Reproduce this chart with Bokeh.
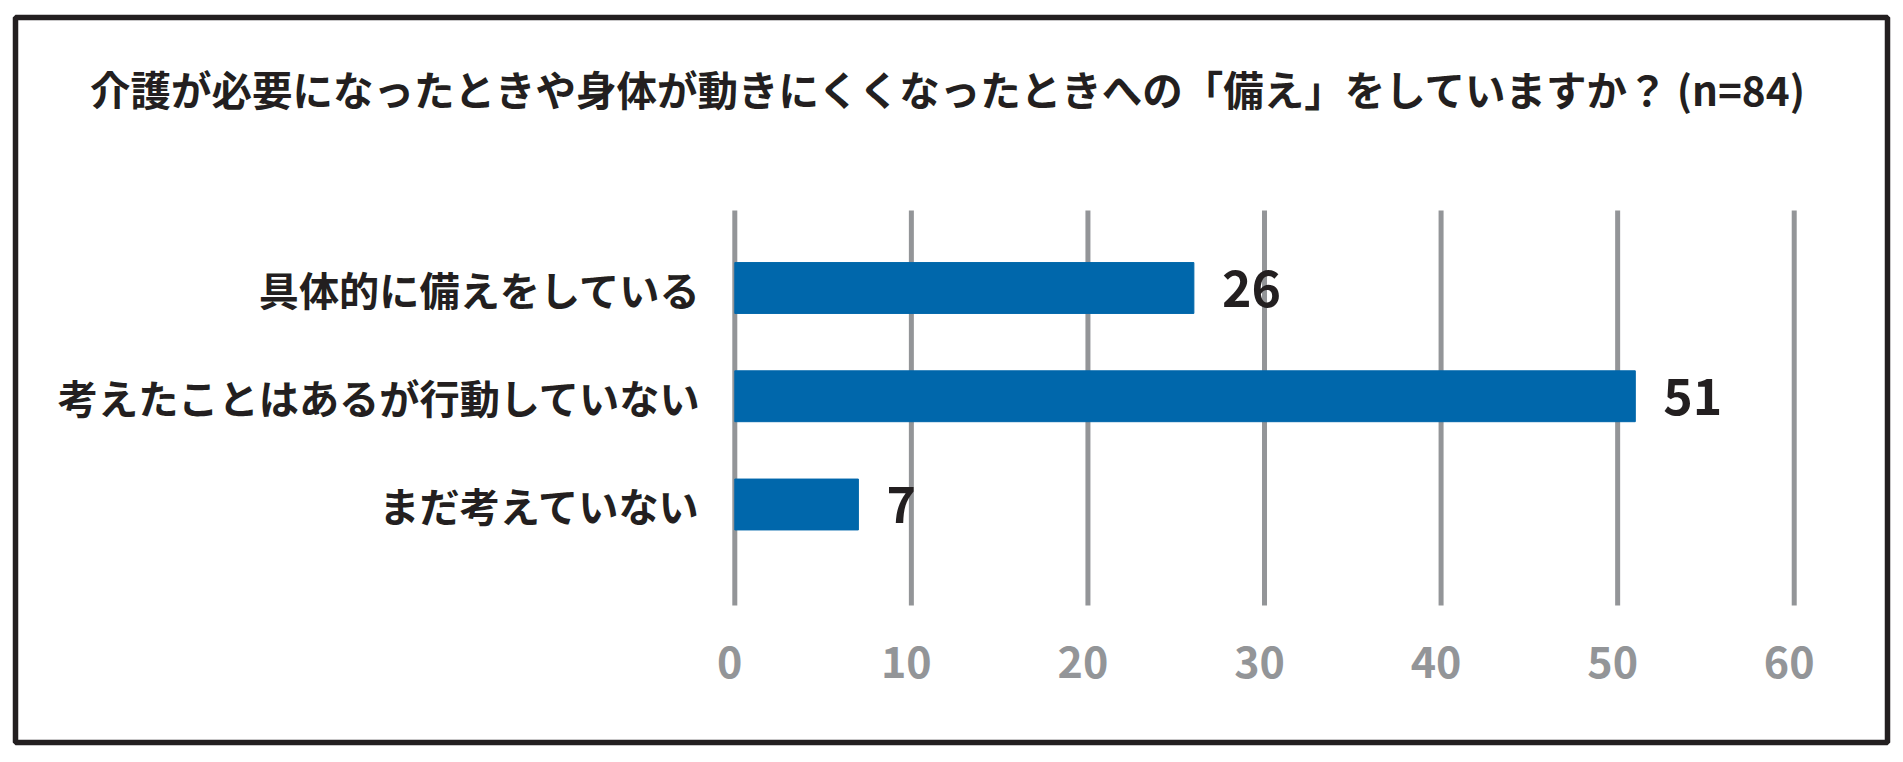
from bokeh.plotting import figure
from bokeh.models import Range1d
from bokeh.core.properties import value
from bokeh.embed import file_html
from bokeh.resources import INLINE

title = '介護が必要になったときや身体が動きにくくなったときへの「備え」をしていますか？ (n=84)'
categories = ['具体的に備えをしている', '考えたことはあるが行動していない', 'まだ考えていない']
counts = [26, 51, 7]
x_ticks = [0, 10, 20, 30, 40, 50, 60]

JP = 'Noto Sans CJK JP'
DARK = '#231f20'
GREY = '#939598'
BLUE = '#0067ab'

W, H = 1903, 762

# frame = the black box round the chart (pixels on the canvas)
BOX_L, BOX_R, BOX_T, BOX_B = 15, 1887, 17, 742
# where the zero line and the first bar sit, and how far apart things are
ZERO_X, PX_PER_UNIT = 734.3, 17.657
ROW0_Y, PX_PER_ROW = 287.5, 108.25


def build():
    rows = list(range(len(categories)))

    x_start = (BOX_L - ZERO_X) / PX_PER_UNIT
    x_end = (BOX_R - ZERO_X) / PX_PER_UNIT
    y_bottom = (BOX_B - ROW0_Y) / PX_PER_ROW
    y_top = (BOX_T - ROW0_Y) / PX_PER_ROW

    p = figure(width=W, height=H, output_backend='svg', toolbar_location=None,
               x_range=Range1d(x_start, x_end), y_range=Range1d(y_bottom, y_top),
               x_axis_location=None, y_axis_location=None,
               min_border_left=BOX_L, min_border_right=W - BOX_R,
               min_border_top=BOX_T, min_border_bottom=H - BOX_B)
    p.grid.visible = False
    p.background_fill_color = 'white'
    p.border_fill_color = 'white'
    p.outline_line_color = DARK
    p.outline_line_width = 5.5

    # grey vertical lines, one per tick
    grid_top = rows[0] - 0.716
    grid_bottom = rows[-1] + 0.933
    p.segment(x0=x_ticks, x1=x_ticks, y0=grid_top, y1=grid_bottom,
              line_color=GREY, line_width=5)

    # tick numbers under the lines
    p.text(x=x_ticks, y=grid_bottom, text=[str(t) for t in x_ticks],
           x_offset=-5, y_offset=57, text_align='center', text_baseline='middle',
           text_font=value(JP), text_font_style='bold',
           text_font_size='43px', text_color=GREY)

    p.hbar(y=rows, right=counts, left=0, height=0.47, color=BLUE)

    p.text(x=counts, y=rows, text=[str(c) for c in counts],
           x_offset=28, text_baseline='middle', text_align='left',
           text_font=value(JP), text_font_style='bold',
           text_font_size='50px', text_color=DARK)

    # category names right-aligned left of the zero line
    p.text(x=0, y=rows, text=categories, x_offset=-34,
           text_align='right', text_baseline='middle',
           text_font=value(JP), text_font_style='bold',
           text_font_size='40.2px', text_color=DARK)

    # title across the top of the box
    p.text(x=(x_start + x_end) / 2, y=y_top, text=[title], x_offset=-3,
           y_offset=71, text_align='center', text_baseline='middle',
           text_font=value(JP), text_font_style='bold',
           text_font_size='40.5px', text_color=DARK)
    return p


p = build()
open('out.html', 'w').write(file_html(p, INLINE))
